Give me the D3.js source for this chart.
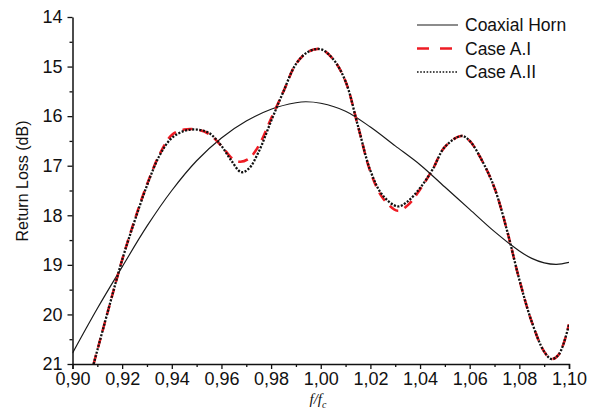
<!DOCTYPE html>
<html>
<head>
<meta charset="utf-8">
<script src="https://cdn.jsdelivr.net/npm/d3@7"></script>
<style>
	body { margin: 0; background: #fff; }
	text { font-family: "Liberation Sans", Arial, sans-serif; fill: #111; }
</style>
</head>
<body>
<svg id="chart" width="595" height="414"></svg>
<script>
// Values

// Coaxial horn (solid)
const coaxF = [0.90, 0.91, 0.92, 0.93, 0.94, 0.95, 0.96, 0.97, 0.98, 0.99, 0.994, 1.00, 1.01, 1.02, 1.03, 1.04, 1.05, 1.06, 1.07, 1.08, 1.085, 1.09, 1.095, 1.10]
const coaxRL = [20.78, 19.88, 19.04, 18.22, 17.5, 16.9, 16.44, 16.1, 15.86, 15.73, 15.71, 15.74, 15.9, 16.22, 16.6, 16.98, 17.43, 17.88, 18.33, 18.72, 18.87, 18.96, 18.99, 18.95]

// Case A.I (red dashed)
const caseIF = [0.9085, 0.915, 0.92, 0.925, 0.93, 0.935, 0.94, 0.945, 0.95, 0.955, 0.96, 0.9645, 0.9675, 0.971, 0.975, 0.98, 0.985, 0.99, 0.995, 1.00, 1.005, 1.01, 1.015, 1.02, 1.025, 1.031, 1.035, 1.04, 1.045, 1.05, 1.0567, 1.06, 1.065, 1.07, 1.075, 1.08, 1.085, 1.09, 1.093, 1.096, 1.10]
const caseIRL = [21.0, 19.8, 18.9, 18.1, 17.38, 16.78, 16.38, 16.27, 16.27, 16.36, 16.6, 16.86, 16.92, 16.86, 16.6, 16.05, 15.5, 14.95, 14.7, 14.65, 14.85, 15.3, 16.2, 17.12, 17.65, 17.91, 17.8, 17.48, 17.08, 16.62, 16.4, 16.5, 16.9, 17.45, 18.3, 19.3, 20.15, 20.75, 20.9, 20.8, 20.2]

// Case A.II (black dotted)
const caseIIF = [0.9085, 0.915, 0.92, 0.925, 0.93, 0.935, 0.94, 0.945, 0.95, 0.955, 0.96, 0.964, 0.968, 0.971, 0.975, 0.98, 0.985, 0.99, 0.995, 1.00, 1.005, 1.01, 1.015, 1.02, 1.025, 1.031, 1.035, 1.04, 1.045, 1.05, 1.0567, 1.06, 1.065, 1.07, 1.075, 1.08, 1.085, 1.09, 1.093, 1.096, 1.10]
const caseIIRL = [21.0, 19.8, 18.9, 18.12, 17.4, 16.8, 16.44, 16.3, 16.27, 16.34, 16.6, 16.9, 17.13, 17.06, 16.72, 16.1, 15.5, 14.95, 14.7, 14.65, 14.85, 15.3, 16.2, 17.1, 17.6, 17.82, 17.72, 17.45, 17.08, 16.62, 16.4, 16.5, 16.9, 17.45, 18.3, 19.3, 20.15, 20.75, 20.9, 20.8, 20.2]

const xTicks = [0.90, 0.92, 0.94, 0.96, 0.98, 1.00, 1.02, 1.04, 1.06, 1.08, 1.10]
const yTicks = [14, 15, 16, 17, 18, 19, 20, 21]

const seriesNames = ["Coaxial Horn", "Case A.I", "Case A.II"]

const config = {
	margin: { left: 72.5, right: 26, top: 17, bottom: 50 },
	width: 595,
	height: 414,
	tickFontSize: 18,
	legendFontSize: 17.5,
	styles: [
		{ colour: "#1a1a1a", width: 1.2, dash: null },
		{ colour: "#ee1c24", width: 2.6, dash: "10,7" },
		{ colour: "#111", width: 2.3, dash: "2.1,1.5" },
	],
}

const svg = d3.select("#chart")
const m = config.margin

const x = d3.scaleLinear()
	.domain([0.90, 1.10])
	.range([m.left, config.width - m.right])

const y = d3.scaleLinear()
	.domain([14, 21])
	.range([m.top, config.height - m.bottom])

const comma = d => d3.format(".2f")(d).replace(".", ",")

// Clip so curves stop at the axes
svg.append("clipPath")
	.attr("id", "plotClip")
	.append("rect")
	.attr("x", m.left)
	.attr("y", m.top - 5)
	.attr("width", x.range()[1] - m.left)
	.attr("height", y.range()[1] - m.top + 5)

const series = [
	coaxF.map((f, i) => [f, coaxRL[i]]),
	caseIF.map((f, i) => [f, caseIRL[i]]),
	caseIIF.map((f, i) => [f, caseIIRL[i]]),
]

const line = d3.line()
	.x(d => x(d[0]))
	.y(d => y(d[1]))
	.curve(d3.curveCatmullRom.alpha(0.5))

svg.append("g")
	.attr("clip-path", "url(#plotClip)")
	.selectAll("path")
	.data(series)
	.join("path")
	.attr("d", line)
	.attr("fill", "none")
	.attr("stroke", (d, i) => config.styles[i].colour)
	.attr("stroke-width", (d, i) => config.styles[i].width)
	.attr("stroke-dasharray", (d, i) => config.styles[i].dash)

// Axes
const xAxis = svg.append("g")
	.attr("transform", `translate(0, ${y.range()[1]})`)
	.call(d3.axisBottom(x).tickValues(xTicks).tickFormat(comma).tickSizeOuter(0).tickSize(5).tickPadding(3))
xAxis.append("g")
	.call(d3.axisBottom(x).tickValues(d3.range(0.91, 1.10, 0.02)).tickFormat("").tickSize(3).tickSizeOuter(0))
	.select(".domain").remove()

const yAxis = svg.append("g")
	.attr("transform", `translate(${m.left}, 0)`)
	.call(d3.axisLeft(y).tickValues(yTicks).tickFormat(d3.format("d")).tickSize(5).tickSizeOuter(0).tickPadding(5))
yAxis.append("g")
	.call(d3.axisLeft(y).tickValues(d3.range(14.5, 21, 1)).tickFormat("").tickSize(3).tickSizeOuter(0))
	.select(".domain").remove()

svg.selectAll(".domain").attr("stroke", "#111").attr("stroke-width", 1.5)
svg.selectAll(".tick line").attr("stroke", "#111").attr("stroke-width", 1.3)
svg.selectAll(".tick text")
	.style("font-size", `${config.tickFontSize}px`)
	.style("font-family", "Liberation Sans, Arial, sans-serif")
	.attr("fill", "#111")

// Axis titles
svg.append("text")
	.attr("transform", `translate(28, 181) rotate(-90)`)
	.attr("text-anchor", "middle")
	.style("font-size", "16px")
	.text("Return Loss (dB)")

const xt = svg.append("text")
	.attr("x", 318)
	.attr("y", 404)
	.attr("text-anchor", "middle")
	.style("font-size", "15px")
	.style("font-style", "italic")
	.style("font-family", "Liberation Serif, Times New Roman, serif")
xt.append("tspan").text("f")
xt.append("tspan").text("/f")
xt.append("tspan").attr("dy", 4).style("font-size", "10px").text("c")

// Legend
const legend = svg.append("g").attr("transform", "translate(417, 25)")
const rows = legend.selectAll("g")
	.data(seriesNames)
	.join("g")
	.attr("transform", (d, i) => `translate(0, ${i * 23.5})`)
rows.append("line")
	.attr("x1", 0)
	.attr("x2", (d, i) => i == 1 ? 36 : 41)
	.attr("y1", 0)
	.attr("y2", 0)
	.attr("stroke", (d, i) => config.styles[i].colour)
	.attr("stroke-width", (d, i) => i == 2 ? 1.6 : config.styles[i].width)
	.attr("stroke-dasharray", (d, i) => i == 1 ? "12,11" : i == 2 ? "1.6,1.6" : null)
rows.append("text")
	.attr("x", 48)
	.attr("y", 6)
	.style("font-size", `${config.legendFontSize}px`)
	.text(d => d)
</script>
</body>
</html>
